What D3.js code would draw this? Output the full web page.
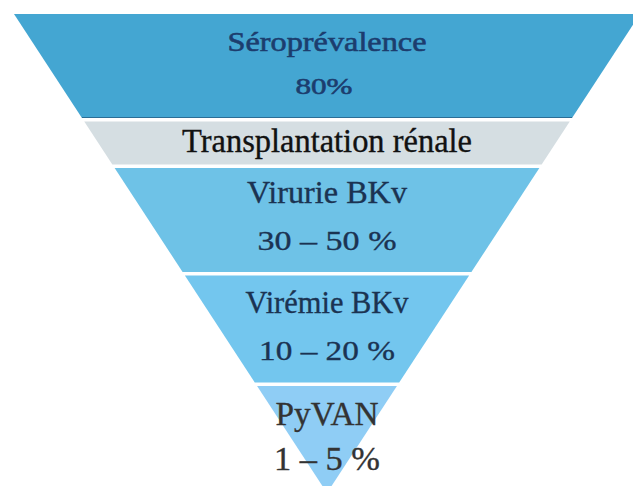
<!DOCTYPE html>
<html>
<head>
<meta charset="utf-8">
<script src="https://cdn.jsdelivr.net/npm/d3@7"></script>
<style>
  html, body { margin: 0; padding: 0; background: #fff; }
  svg { display: block; }
</style>
</head>
<body>
<svg id="chart" width="633" height="486"></svg>
<script>
// ---- data ----
const stageNames = ["Séroprévalence", "Transplantation rénale", "Virurie BKv", "Virémie BKv", "PyVAN"];
const stageValues = ["80%", "", "30 – 50 %", "10 – 20 %", "1 – 5 %"];
// relative depth of each funnel band (the context band is thinner)
const stageWeights = [104, 43, 104, 107, 107];

// ---- layout / style ----
const apexPt = { x: 327, y: 493 };
const topEdge = { y: 14, xl: 14, xr: 640 };
const gap = 3.5;
const fills = ["#44a6d2", "#d5dee2", "#6ec2e7", "#73c6ee", "#8fcdf5"];
const textFills = ["#1c3d6e", "#111111", "#1b3352", "#1b3352", "#333333"];
const FONT = '"Liberation Serif"';

const svg = d3.select("#chart");

const usable = (apexPt.y - topEdge.y) - gap * (stageWeights.length - 1);
const yScale = d3.scaleLinear().domain([0, d3.sum(stageWeights)]).range([0, usable]);

const leftX = d3.scaleLinear().domain([topEdge.y, apexPt.y]).range([topEdge.xl, apexPt.x]);
const rightX = d3.scaleLinear().domain([topEdge.y, apexPt.y]).range([topEdge.xr, apexPt.x]);

let acc = 0;
const bands = stageNames.map((name, i) => {
  const y0 = topEdge.y + yScale(acc) + gap * i;
  acc += stageWeights[i];
  const y1 = topEdge.y + yScale(acc) + gap * i;
  return { i, name, value: stageValues[i], y0, y1 };
});

const line = d3.line();

svg.selectAll("path.band")
  .data(bands)
  .join("path")
  .attr("class", "band")
  .attr("d", d => line([
    [leftX(d.y0), d.y0], [rightX(d.y0), d.y0],
    [rightX(d.y1), d.y1], [leftX(d.y1), d.y1]
  ]) + "Z")
  .attr("fill", d => fills[d.i]);

svg.append("line")
  .attr("x1", leftX(bands[0].y1)).attr("x2", rightX(bands[0].y1))
  .attr("y1", bands[0].y1 - 0.5).attr("y2", bands[0].y1 - 0.5)
  .attr("stroke", "#2b6e96").attr("stroke-width", 1.2);

// baseline offsets / sizes of the two text lines in each band
const labelPos = [
  { n: 51, v: 94, ns: 28, vs: 24, nl: 199, vl: 57, sw: 0.6 },
  { n: 152, ns: 33, nl: 290, sw: 0.35 },
  { n: 203, v: 250, ns: 31, vs: 28, nl: 160, vl: 139, sw: 0.35 },
  { n: 313, v: 360, ns: 31, vs: 28, nl: 163, vl: 136, sw: 0.35 },
  { n: 425, v: 470, ns: 33, vs: 33, nl: 103, vl: 106, sw: 0.35 }
];

const g = svg.append("g");

function addText(x, yPos, size, len, color, sw, str) {
  g.append("text")
    .attr("x", x).attr("y", yPos)
    .attr("text-anchor", "middle")
    .style("font-family", FONT)
    .style("font-size", size + "px")
    .attr("textLength", len).attr("lengthAdjust", "spacingAndGlyphs")
    .attr("fill", color)
    .attr("stroke", color).attr("stroke-width", sw)
    .text(str);
}

bands.forEach(d => {
  const p = labelPos[d.i];
  const cx = (leftX(d.y0) + rightX(d.y0)) / 2;
  addText(cx, p.n, p.ns, p.nl, textFills[d.i], p.sw, d.name);
  if (d.value) addText(cx - (d.i === 0 ? 3 : 0), p.v, p.vs, p.vl, textFills[d.i], p.sw, d.value);
});
</script>
</body>
</html>
